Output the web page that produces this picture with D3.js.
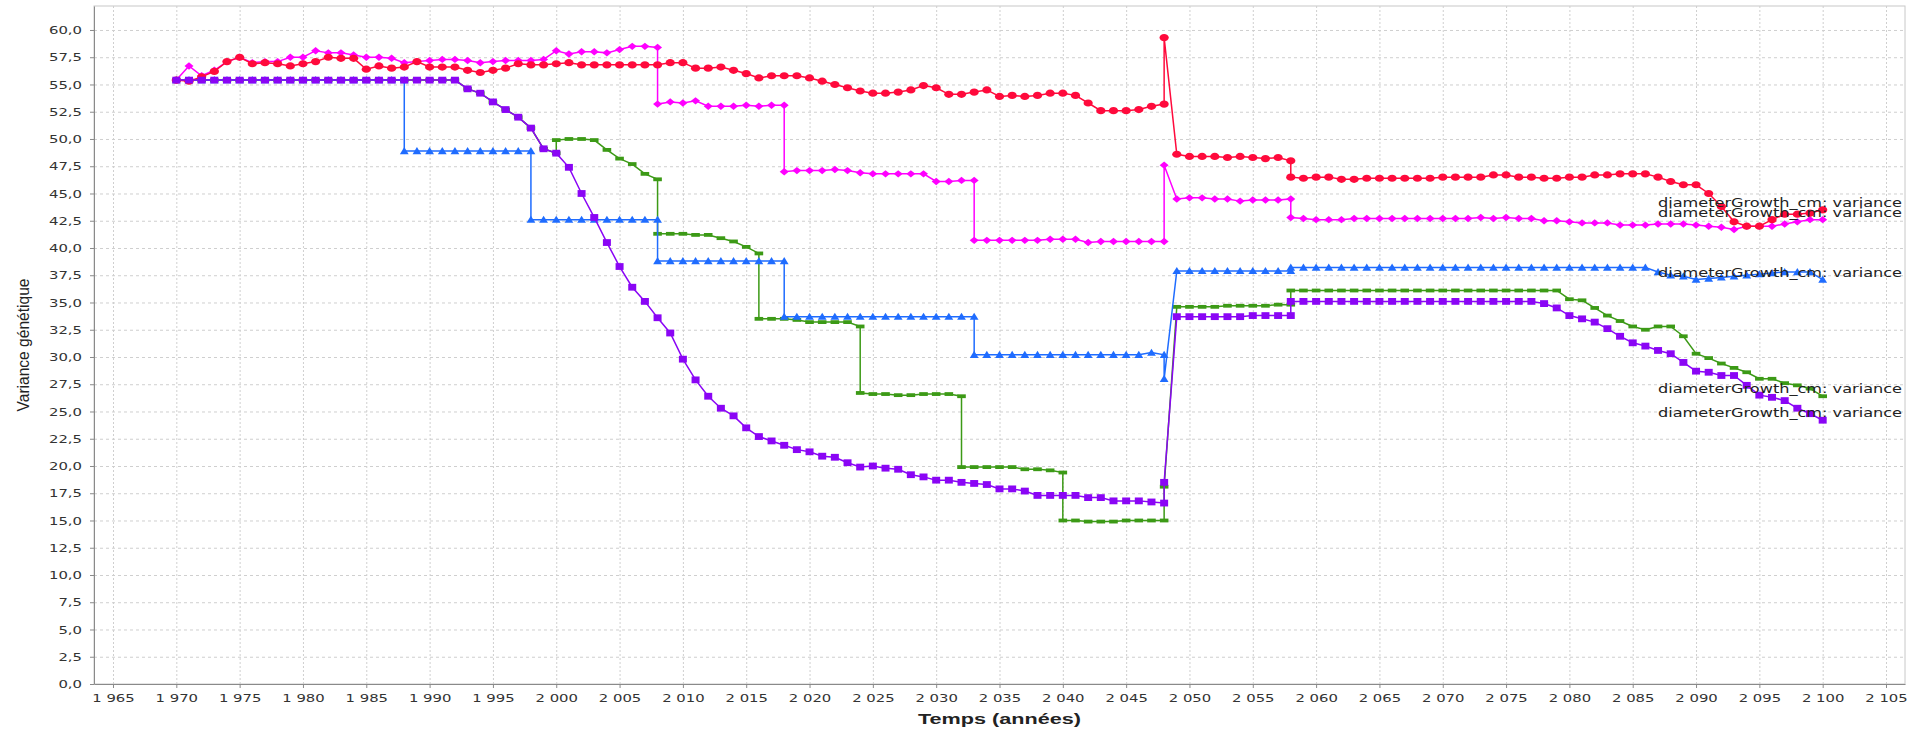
<!DOCTYPE html>
<html>
<head>
<meta charset="utf-8">
<script src="https://cdn.jsdelivr.net/npm/d3@7"></script>
<style>
  html, body { margin: 0; padding: 0; background: #fff; }
  svg { display: block; }
</style>
</head>
<body>
<div id="chart"></div>
<script>
// each run: [first year, values for consecutive years]; a run starting on the
// year the previous one ended gives the vertical steps of the original chart
const redRuns = [
  [1970, [55.4, 55.3, 55.7, 56.2, 57.1, 57.5, 56.9, 57.0, 56.9, 56.7,
          56.9, 57.1, 57.5, 57.4, 57.4, 56.4, 56.7, 56.5, 56.6, 57.1,
          56.6, 56.6, 56.6, 56.3, 56.1, 56.3, 56.5, 56.9, 56.8, 56.8,
          56.9, 57.0, 56.8, 56.8, 56.8, 56.8, 56.8, 56.8, 56.8, 57.0,
          57.0, 56.5, 56.5, 56.6, 56.3, 56.0, 55.6, 55.8, 55.8, 55.8,
          55.6, 55.3, 55.0, 54.7, 54.4, 54.2, 54.2, 54.3, 54.5, 54.9,
          54.7, 54.1, 54.1, 54.3, 54.5, 53.9, 54.0, 53.9, 54.0, 54.2,
          54.2, 54.0, 53.3, 52.6, 52.6, 52.6, 52.7, 53.0, 53.2]],
  [2048, [59.3, 48.6, 48.4, 48.4, 48.4, 48.3, 48.4, 48.3, 48.2, 48.3, 48.0]],
  [2058, [46.5, 46.4, 46.5, 46.5, 46.3, 46.3, 46.4, 46.4, 46.4, 46.4,
          46.4, 46.4, 46.5, 46.5, 46.5, 46.5, 46.7, 46.7, 46.5, 46.5,
          46.4, 46.4, 46.5, 46.5, 46.7, 46.7, 46.8, 46.8, 46.8, 46.5,
          46.1, 45.8, 45.8, 45.0, 43.8, 42.4, 42.0, 42.0, 42.6, 43.1,
          43.1, 43.2, 43.5]]
];

const magentaRuns = [
  [1970, [55.4, 56.7, 55.8, 56.3, 57.1, 57.5, 57.0, 57.1, 57.1, 57.5,
          57.5, 58.1, 57.9, 57.9, 57.7, 57.5, 57.5, 57.4, 57.0, 57.1,
          57.2, 57.3, 57.3, 57.2, 57.0, 57.1, 57.2, 57.2, 57.2, 57.3,
          58.1, 57.8, 58.0, 58.0, 57.9, 58.2, 58.5, 58.5, 58.4]],
  [2008, [53.2, 53.4, 53.3, 53.5, 53.0, 53.0, 53.0, 53.1, 53.0, 53.1, 53.1]],
  [2018, [47.0, 47.1, 47.1, 47.1, 47.2, 47.1, 46.9, 46.8, 46.8, 46.8,
          46.8, 46.8, 46.1, 46.1, 46.2, 46.2]],
  [2033, [40.7, 40.7, 40.7, 40.7, 40.7, 40.7, 40.8, 40.8, 40.8, 40.5,
          40.6, 40.6, 40.6, 40.6, 40.6, 40.6]],
  [2048, [47.6, 44.5, 44.6, 44.6, 44.5, 44.5, 44.3, 44.4, 44.4, 44.4, 44.5]],
  [2058, [42.8, 42.7, 42.6, 42.6, 42.6, 42.7, 42.7, 42.7, 42.7, 42.7,
          42.7, 42.7, 42.7, 42.7, 42.7, 42.8, 42.7, 42.8, 42.7, 42.7,
          42.5, 42.5, 42.4, 42.3, 42.3, 42.3, 42.1, 42.1, 42.1, 42.2,
          42.2, 42.2, 42.1, 42.0, 41.9, 41.7, 42.0, 42.0, 42.0, 42.2,
          42.4, 42.6, 42.6]]
];

const blueRuns = [
  [1970, [55.4, 55.4, 55.4, 55.4, 55.4, 55.4, 55.4, 55.4, 55.4, 55.4,
          55.4, 55.4, 55.4, 55.4, 55.4, 55.4, 55.4, 55.4, 55.4]],
  [1988, [48.9, 48.9, 48.9, 48.9, 48.9, 48.9, 48.9, 48.9, 48.9, 48.9, 48.9]],
  [1998, [42.6, 42.6, 42.6, 42.6, 42.6, 42.6, 42.6, 42.6, 42.6, 42.6, 42.6]],
  [2008, [38.8, 38.8, 38.8, 38.8, 38.8, 38.8, 38.8, 38.8, 38.8, 38.8, 38.8]],
  [2018, [33.7, 33.7, 33.7, 33.7, 33.7, 33.7, 33.7, 33.7, 33.7, 33.7,
          33.7, 33.7, 33.7, 33.7, 33.7, 33.7]],
  [2033, [30.2, 30.2, 30.2, 30.2, 30.2, 30.2, 30.2, 30.2, 30.2, 30.2,
          30.2, 30.2, 30.2, 30.2, 30.4, 30.2]],
  [2048, [28.0, 37.9, 37.9, 37.9, 37.9, 37.9, 37.9, 37.9, 37.9, 37.9, 37.9]],
  [2058, [38.2, 38.2, 38.2, 38.2, 38.2, 38.2, 38.2, 38.2, 38.2, 38.2,
          38.2, 38.2, 38.2, 38.2, 38.2, 38.2, 38.2, 38.2, 38.2, 38.2,
          38.2, 38.2, 38.2, 38.2, 38.2, 38.2, 38.2, 38.2, 38.2, 37.8,
          37.5, 37.4, 37.1, 37.2, 37.3, 37.4, 37.5, 37.6, 37.7, 37.8,
          37.8, 37.8, 37.1]]
];

const greenRuns = [
  [1970, [55.4, 55.4, 55.4, 55.4, 55.4, 55.4, 55.4, 55.4, 55.4, 55.4,
          55.4, 55.4, 55.4, 55.4, 55.4, 55.4, 55.4, 55.4, 55.4, 55.4,
          55.4, 55.4, 55.4, 54.6, 54.2, 53.4, 52.7, 52.0, 51.0, 49.1, 48.7]],
  [2000, [49.9, 50.0, 50.0, 49.9, 49.0, 48.2, 47.7, 46.8, 46.3]],
  [2008, [41.3, 41.3, 41.3, 41.2, 41.2, 40.9, 40.6, 40.1, 39.5]],
  [2016, [33.5, 33.5, 33.5, 33.4, 33.2, 33.2, 33.2, 33.2, 32.8]],
  [2024, [26.7, 26.6, 26.6, 26.5, 26.5, 26.6, 26.6, 26.6, 26.4]],
  [2032, [19.9, 19.9, 19.9, 19.9, 19.9, 19.7, 19.7, 19.6, 19.4]],
  [2040, [15.0, 15.0, 14.9, 14.9, 14.9, 15.0, 15.0, 15.0, 15.0]],
  [2048, [18.1, 34.6, 34.6, 34.6, 34.6, 34.7, 34.7, 34.7, 34.7, 34.8, 34.8]],
  [2058, [36.1, 36.1, 36.1, 36.1, 36.1, 36.1, 36.1, 36.1, 36.1, 36.1,
          36.1, 36.1, 36.1, 36.1, 36.1, 36.1, 36.1, 36.1, 36.1, 36.1,
          36.1, 36.1, 35.3, 35.2, 34.5, 33.8, 33.3, 32.8, 32.5, 32.8,
          32.8, 31.9, 30.3, 29.9, 29.4, 29.0, 28.6, 28.0, 28.0, 27.6,
          27.4, 27.1, 26.4]]
];

const purpleRuns = [
  [1970, [55.4, 55.4, 55.4, 55.4, 55.4, 55.4, 55.4, 55.4, 55.4, 55.4,
          55.4, 55.4, 55.4, 55.4, 55.4, 55.4, 55.4, 55.4, 55.4, 55.4,
          55.4, 55.4, 55.4, 54.6, 54.2, 53.4, 52.7, 52.0, 51.0, 49.1,
          48.7, 47.4, 45.0, 42.8, 40.5, 38.3, 36.4, 35.1, 33.6, 32.2,
          29.8, 27.9, 26.4, 25.3, 24.6, 23.5, 22.7, 22.3, 21.9, 21.5,
          21.3, 20.9, 20.8, 20.3, 19.9, 20.0, 19.8, 19.7, 19.2, 19.0,
          18.7, 18.7, 18.5, 18.4, 18.3, 17.9, 17.9, 17.7, 17.3, 17.3,
          17.3, 17.3, 17.1, 17.1, 16.8, 16.8, 16.8, 16.7, 16.6]],
  [2048, [18.5, 33.7, 33.7, 33.7, 33.7, 33.7, 33.7, 33.8, 33.8, 33.8, 33.8]],
  [2058, [35.1, 35.1, 35.1, 35.1, 35.1, 35.1, 35.1, 35.1, 35.1, 35.1,
          35.1, 35.1, 35.1, 35.1, 35.1, 35.1, 35.1, 35.1, 35.1, 35.1,
          34.9, 34.5, 33.8, 33.5, 33.2, 32.6, 31.9, 31.3, 31.0, 30.6,
          30.3, 29.5, 28.7, 28.6, 28.3, 28.3, 27.4, 26.5, 26.3, 26.0,
          25.3, 24.8, 24.2]]
];

const seriesLabel = "diameterGrowth_cm: variance";
const xTicks = d3.range(1965, 2106, 5);
const yTicks = d3.range(0, 60.01, 2.5);

const width = 1916, height = 729;
const margin = { top: 6, right: 11, bottom: 45, left: 94 };
const stretch = 1.35; // the original picture is widened horizontally

// drawn bottom to top
const series = [
  { runs: greenRuns, color: "#3c9a16", marker: "M-4.3,-1.9h8.6v3.8h-8.6Z" },
  { runs: blueRuns, color: "#1f6cff", marker: "M0,-4L4.4,3.2L-4.4,3.2Z" },
  { runs: magentaRuns, color: "#ff00ff", marker: "M0,-3.7L4.5,0L0,3.7L-4.5,0Z" },
  { runs: redRuns, color: "#ff0a3c", marker: "M-4.6,0a4.6,3.6 0 1,0 9.2,0a4.6,3.6 0 1,0 -9.2,0Z" },
  { runs: purpleRuns, color: "#8a05f5", marker: "M-4,-3.4h8v6.8h-8Z" }
];

const fr = d3.formatLocale({ decimal: ",", thousands: " ", grouping: [3], currency: ["", ""] });

const svg = d3.select("#chart").append("svg")
  .attr("width", width)
  .attr("height", height)
  .style("font-family", "'DejaVu Sans', sans-serif");

const x = d3.scaleLinear().domain([1963.5, 2106.5]).range([margin.left, width - margin.right]);
const y = d3.scaleLinear().domain([0, 62.2]).range([height - margin.bottom, margin.top]);

// plot frame
svg.append("rect")
  .attr("x", margin.left).attr("y", margin.top)
  .attr("width", width - margin.left - margin.right)
  .attr("height", height - margin.top - margin.bottom)
  .attr("fill", "#fff").attr("stroke", "#c8c8c8");

// grid
svg.append("g").selectAll("line").data(xTicks).join("line")
  .attr("x1", d => x(d) + 0.5).attr("x2", d => x(d) + 0.5)
  .attr("y1", margin.top).attr("y2", height - margin.bottom)
  .attr("stroke", "#cfcfcf").attr("stroke-dasharray", "2,2");
svg.append("g").selectAll("line").data(yTicks.filter(d => d > 0)).join("line")
  .attr("x1", margin.left).attr("x2", width - margin.right)
  .attr("y1", d => y(d) + 0.5).attr("y2", d => y(d) + 0.5)
  .attr("stroke", "#cfcfcf").attr("stroke-dasharray", "3,3");

// axes
const xAxis = svg.append("g")
  .attr("transform", `translate(0,${height - margin.bottom})`)
  .call(d3.axisBottom(x).tickValues(xTicks).tickFormat(fr.format(",d")).tickSize(4).tickSizeOuter(0).tickPadding(6));
const yAxis = svg.append("g")
  .attr("transform", `translate(${margin.left},0)`)
  .call(d3.axisLeft(y).tickValues(yTicks).tickFormat(fr.format(".1f")).tickSize(4).tickSizeOuter(0));

[xAxis, yAxis].forEach(a => {
  a.select(".domain").attr("stroke", "#8a8a8a");
  a.selectAll(".tick line").attr("stroke", "#8a8a8a");
  a.selectAll("text")
    .attr("font-family", "'DejaVu Sans', sans-serif")
    .attr("font-size", 11)
    .attr("fill", "#333");
});
xAxis.selectAll("text").attr("transform", `scale(${stretch},1)`);
yAxis.selectAll("text").attr("x", -12 / stretch).attr("transform", `scale(${stretch},1)`);

// axis titles
svg.append("text")
  .attr("transform", `translate(29,${(margin.top + height - margin.bottom) / 2}) rotate(-90)`)
  .attr("text-anchor", "middle")
  .attr("font-family", "'Liberation Sans', Arial, sans-serif")
  .attr("font-size", 17)
  .attr("textLength", 133).attr("lengthAdjust", "spacingAndGlyphs")
  .attr("fill", "#222")
  .text("Variance génétique");

svg.append("text")
  .attr("x", (margin.left + width - margin.right) / 2)
  .attr("y", 724)
  .attr("text-anchor", "middle")
  .attr("font-family", "'Liberation Sans', Arial, sans-serif")
  .attr("font-size", 15)
  .attr("font-weight", "bold")
  .attr("textLength", 163).attr("lengthAdjust", "spacingAndGlyphs")
  .attr("fill", "#222")
  .text("Temps (années)");

// series
const line = d3.line().x(d => x(d.year)).y(d => y(d.value));

series.forEach(s => {
  const pts = s.runs.flatMap(([start, vals]) => vals.map((v, i) => ({ year: start + i, value: v })));
  const g = svg.append("g");
  g.append("path")
    .datum(pts)
    .attr("fill", "none")
    .attr("stroke", s.color)
    .attr("stroke-width", 1.5)
    .attr("d", line);
  g.selectAll(".m").data(pts).join("path")
    .attr("class", "m")
    .attr("d", s.marker)
    .attr("transform", d => `translate(${x(d.year)},${y(d.value)})`)
    .attr("fill", s.color);
});

// labels next to the last points (the two top ones overlap in the original too)
series.forEach(s => {
  const lastRun = s.runs[s.runs.length - 1];
  const last = lastRun[1][lastRun[1].length - 1];
  svg.append("text")
    .attr("x", 1658)
    .attr("y", y(last) - 3)
    .attr("font-family", "'DejaVu Sans', sans-serif")
    .attr("font-size", 12)
    .attr("textLength", 244).attr("lengthAdjust", "spacingAndGlyphs")
    .attr("fill", "#222")
    .text(seriesLabel);
});
</script>
</body>
</html>
